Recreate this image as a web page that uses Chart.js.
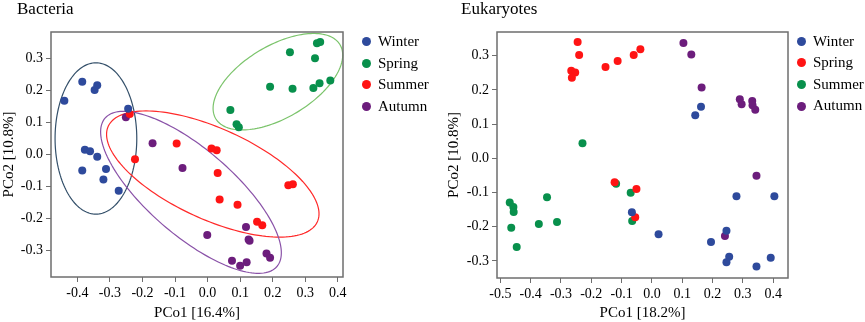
<!DOCTYPE html>
<html>
<head>
<meta charset="utf-8">
<script src="https://cdn.jsdelivr.net/npm/chart.js@4.4.0/dist/chart.umd.min.js"></script>
<style>
  body { margin: 0; background: #fff; font-family: 'Liberation Serif', serif; }
  #wrap { position: relative; width: 865px; height: 322px; overflow: hidden; }
  .box { position: absolute; top: 0; height: 322px; }
  .title { position: absolute; top: -1px; font-size: 17px; color: #000; }
  .legend { position: absolute; font-size: 15px; color: #000; }
  .legend div { position: relative; height: 21.6px; line-height: 21.6px; padding-left: 11px; white-space: nowrap; }
  .legend span { position: absolute; left: -5px; top: 6.3px; width: 9px; height: 9px; border-radius: 50%; }
</style>
</head>
<body>
<div id="wrap">
  <div class="box" style="left:0;width:440px"><canvas id="bact" width="440" height="322"></canvas></div>
  <div class="box" style="left:440px;width:425px"><canvas id="euk" width="425" height="322"></canvas></div>
  <div class="title" style="left:17px">Bacteria</div>
  <div class="title" style="left:461px">Eukaryotes</div>
  <div class="legend" id="bactLegend" style="left:367px;top:31px"></div>
  <div class="legend" id="eukLegend" style="left:802px;top:30.5px"></div>
</div>
<script>
// tick labels
const bactXTicks = [-0.4, -0.3, -0.2, -0.1, 0.0, 0.1, 0.2, 0.3, 0.4];
const bactYTicks = [-0.3, -0.2, -0.1, 0.0, 0.1, 0.2, 0.3];
const eukXTicks = [-0.5, -0.4, -0.3, -0.2, -0.1, 0.0, 0.1, 0.2, 0.3, 0.4];
const eukYTicks = [-0.3, -0.2, -0.1, 0.0, 0.1, 0.2, 0.3];

// legend labels and colours
const bactLabels = ['Winter', 'Spring', 'Summer', 'Autumn'];
const bactColors = ['#2e4a9c', '#08904c', '#ff1414', '#6c1d7c'];
const eukLabels = ['Winter', 'Spring', 'Summer', 'Autumn'];
const eukColors = ['#2e4a9c', '#ff1414', '#08904c', '#6c1d7c'];

// Bacteria PCoA points [PCo1, PCo2]
const bactWinter = [[-0.44, 0.168], [-0.385, 0.227], [-0.347, 0.201], [-0.339, 0.216], [-0.244, 0.143],
  [-0.377, 0.015], [-0.361, 0.010], [-0.339, -0.007], [-0.385, -0.050], [-0.312, -0.045], [-0.320, -0.078], [-0.273, -0.113]];
const bactSpring = [[0.253, 0.319], [0.336, 0.347], [0.346, 0.351], [0.330, 0.300], [0.192, 0.211], [0.261, 0.205],
  [0.325, 0.207], [0.344, 0.222], [0.377, 0.231], [0.070, 0.139], [0.089, 0.094], [0.096, 0.085]];
const bactSummer = [[-0.239, 0.126], [-0.223, -0.015], [-0.095, 0.034], [0.012, 0.019], [0.028, 0.013], [0.031, -0.058],
  [0.037, -0.140], [0.092, -0.157], [0.248, -0.096], [0.262, -0.093], [0.152, -0.210], [0.168, -0.221]];
const bactAutumn = [[-0.251, 0.116], [-0.169, 0.035], [-0.077, -0.042], [-0.001, -0.251], [0.118, -0.226], [0.129, -0.269],
  [0.126, -0.265], [0.075, -0.331], [0.100, -0.347], [0.120, -0.336], [0.181, -0.309], [0.192, -0.322]];

// Bacteria group ellipses: centre, semi-axes, angle (deg)
const bactEllipseCentres = [[-0.343, 0.050], [0.216, 0.227], [0.016, -0.061], [-0.051, -0.118]];
const bactEllipseAxes = [[0.236, 0.1255], [0.223, 0.112], [0.354, 0.141], [0.351, 0.133]];
const bactEllipseAngles = [90, 31.4, -25, -41.4];
const bactEllipseColors = ['#34506a', '#7cc46c', '#ff2a2a', '#8a52a8'];

// Eukaryotes PCoA points
const eukWinter = [[0.162, 0.151], [0.143, 0.126], [-0.066, -0.158], [0.022, -0.222], [0.195, -0.245], [0.246, -0.212],
  [0.255, -0.288], [0.246, -0.304], [0.279, -0.111], [0.404, -0.111], [0.392, -0.291], [0.345, -0.316]];
const eukSpring = [[-0.245, 0.340], [-0.240, 0.302], [-0.266, 0.256], [-0.253, 0.251], [-0.264, 0.236], [-0.153, 0.267],
  [-0.113, 0.285], [-0.060, 0.302], [-0.038, 0.319], [-0.123, -0.070], [-0.051, -0.090], [-0.055, -0.172]];
const eukSummer = [[-0.229, 0.044], [-0.118, -0.074], [-0.070, -0.101], [-0.065, -0.183], [-0.469, -0.129], [-0.457, -0.142],
  [-0.456, -0.157], [-0.464, -0.203], [-0.446, -0.259], [-0.373, -0.192], [-0.313, -0.186], [-0.346, -0.114]];
const eukAutumn = [[0.104, 0.337], [0.130, 0.304], [0.164, 0.207], [0.290, 0.173], [0.296, 0.158], [0.331, 0.168],
  [0.332, 0.155], [0.341, 0.142], [0.345, -0.051], [0.241, -0.227]];

const FONT = 'Liberation Serif';

// draw group ellipses in data space through the chart scales
function ellipsePlugin(centres, axes, angles, colors) {
  return {
    id: 'ellipses',
    beforeDatasetsDraw(chart) {
      const ctx = chart.ctx, xs = chart.scales.x, ys = chart.scales.y;
      centres.forEach((c, k) => {
        const th = angles[k] * Math.PI / 180;
        ctx.save();
        ctx.beginPath();
        for (let i = 0; i <= 160; i++) {
          const t = i / 160 * 2 * Math.PI;
          const dx = axes[k][0] * Math.cos(t), dy = axes[k][1] * Math.sin(t);
          const px = xs.getPixelForValue(c[0] + dx * Math.cos(th) - dy * Math.sin(th));
          const py = ys.getPixelForValue(c[1] + dx * Math.sin(th) + dy * Math.cos(th));
          if (i === 0) ctx.moveTo(px, py); else ctx.lineTo(px, py);
        }
        ctx.closePath();
        ctx.strokeStyle = colors[k];
        ctx.lineWidth = 1.2;
        ctx.stroke();
        ctx.restore();
      });
    }
  };
}

// box round the plot area
const framePlugin = {
  id: 'frame',
  afterDatasetsDraw(chart) {
    const { ctx, chartArea: a } = chart;
    ctx.save();
    ctx.strokeStyle = '#6e6e6e';
    ctx.lineWidth = 1.5;
    ctx.strokeRect(a.left, a.top, a.right - a.left, a.bottom - a.top);
    ctx.restore();
  }
};

function axis(min, max, ticks, title, size, titlePad) {
  return {
    type: 'linear', min: min, max: max,
    afterBuildTicks: s => { s.ticks = ticks.map(v => ({ value: v })); },
    afterFit: s => { if (s.isHorizontal()) s.height = size; else s.width = size; },
    grid: { drawOnChartArea: false, drawTicks: true, tickLength: 5, color: '#6e6e6e', lineWidth: 1 },
    border: { display: false },
    ticks: { color: '#000', padding: 3, font: { family: FONT, size: 14 }, callback: v => v.toFixed(1), maxRotation: 0, autoSkip: false },
    title: { display: true, text: title, color: '#000', padding: titlePad, font: { family: FONT, size: 15 } }
  };
}

function makeChart(id, labels, colors, series, xAxis, yAxis, padding, plugins) {
  new Chart(document.getElementById(id), {
    type: 'scatter',
    data: {
      datasets: series.map((pts, i) => ({
        label: labels[i],
        data: pts.map(p => ({ x: p[0], y: p[1] })),
        backgroundColor: colors[i],
        borderWidth: 0,
        pointRadius: 4,
        pointHoverRadius: 4
      }))
    },
    options: {
      responsive: false,
      animation: false,
      layout: { padding: padding },
      plugins: { legend: { display: false }, tooltip: { enabled: false } },
      scales: { x: xAxis, y: yAxis }
    },
    plugins: plugins
  });
}

function makeLegend(id, labels, colors) {
  const el = document.getElementById(id);
  labels.forEach((l, i) => {
    const row = document.createElement('div');
    row.innerHTML = '<span style="background:' + colors[i] + '"></span>' + l;
    el.appendChild(row);
  });
}

makeChart('bact', bactLabels, bactColors, [bactWinter, bactSpring, bactSummer, bactAutumn],
  axis(-0.481, 0.416, bactXTicks, 'PCo1 [16.4%]', 45, { top: 0, bottom: 0 }),
  axis(-0.382, 0.382, bactYTicks, 'PCo2 [10.8%]', 51, { top: 0, bottom: 0 }),
  { left: 0, right: 97, top: 32, bottom: 0 },
  [ellipsePlugin(bactEllipseCentres, bactEllipseAxes, bactEllipseAngles, bactEllipseColors), framePlugin]);

makeChart('euk', eukLabels, eukColors, [eukWinter, eukSpring, eukSummer, eukAutumn],
  axis(-0.511, 0.449, eukXTicks, 'PCo1 [18.2%]', 44, { top: 0, bottom: 0 }),
  axis(-0.35, 0.3695, eukYTicks, 'PCo2 [10.8%]', 57, { top: 5, bottom: 0 }),
  { left: 0, right: 77, top: 32, bottom: 0 },
  [framePlugin]);

makeLegend('bactLegend', bactLabels, bactColors);
makeLegend('eukLegend', eukLabels, eukColors);
</script>
</body>
</html>
